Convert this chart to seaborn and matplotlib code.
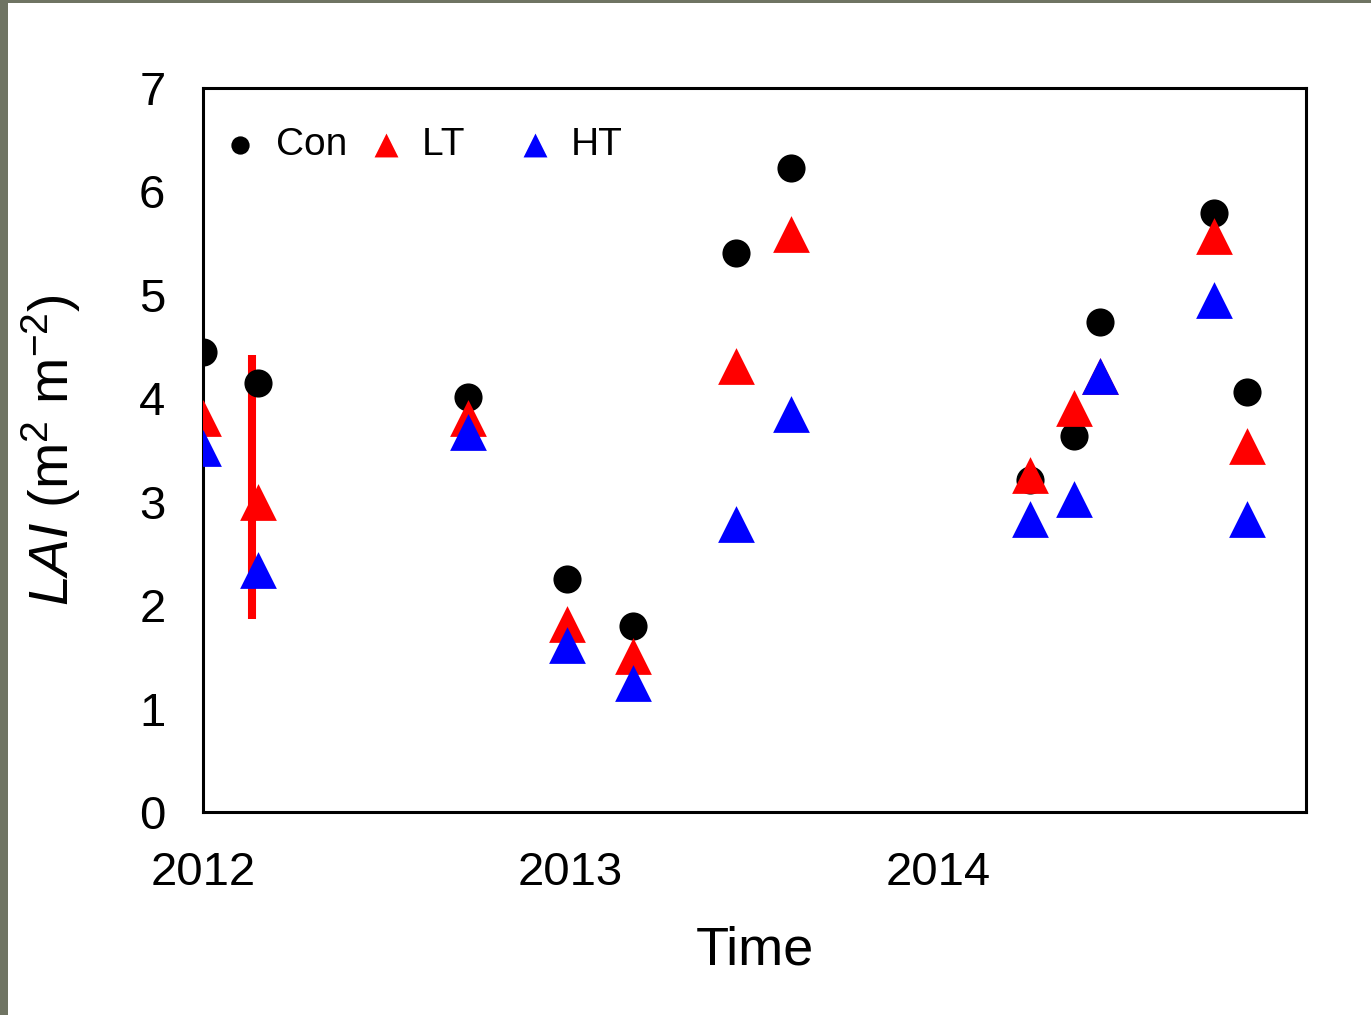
import matplotlib
matplotlib.use("Agg")
import matplotlib.pyplot as plt
import seaborn as sns
import pandas as pd
from matplotlib.patches import Rectangle

# Sampling dates (decimal years) and leaf area index per treatment
dates = [2012.00, 2012.15, 2012.72, 2012.99, 2013.17, 2013.45, 2013.60,
         2014.25, 2014.37, 2014.44, 2014.75, 2014.84]
lai_con = [4.45, 4.15, 4.01, 2.25, 1.80, 5.40, 6.23, 3.21, 3.64, 4.74, 5.79, 4.06]
lai_lt = [3.81, 3.00, 3.81, 1.82, 1.51, 4.31, 5.59, 3.26, 3.91, 4.22, 5.57, 3.54]
lai_ht = [3.52, 2.34, 3.67, 1.61, 1.25, 2.78, 3.85, 2.83, 3.03, 4.22, 4.95, 2.83]

# Vertical LSD bar
lsd_x = 2012.133
lsd_low = 1.87
lsd_high = 4.42

year_ticks = [2012, 2013, 2014]
lai_ticks = [0, 1, 2, 3, 4, 5, 6, 7]

sns.set_theme(style="white")
plt.rcParams["font.family"] = ["Liberation Sans", "DejaVu Sans"]
plt.rcParams["mathtext.fontset"] = "custom"
plt.rcParams["mathtext.rm"] = "Liberation Sans"
plt.rcParams["mathtext.it"] = "Liberation Sans:italic"
plt.rcParams["text.color"] = "black"
plt.rcParams["axes.labelcolor"] = "black"

fig = plt.figure(figsize=(13.71, 10.15), dpi=100)
fig.patch.set_facecolor("white")
ax = fig.add_axes([0.148, 0.2, 0.8046, 0.7133])

df = pd.DataFrame({"date": dates, "Con": lai_con, "LT": lai_lt, "HT": lai_ht})

sns.scatterplot(data=df, x="date", y="Con", ax=ax, color="black", marker="o",
                s=410, linewidth=0, label="Con", zorder=3)
sns.scatterplot(data=df, x="date", y="LT", ax=ax, color="#ff0000", marker="^",
                s=700, linewidth=0, label="LT   ", zorder=4)
sns.scatterplot(data=df, x="date", y="HT", ax=ax, color="#0000ff", marker="^",
                s=700, linewidth=0, label="HT", zorder=5)

ax.vlines(lsd_x, lsd_low, lsd_high, color="#ff0000", linewidth=5.8, zorder=2)

ax.set_xlim(2012, 2015)
ax.set_ylim(0, 7)
ax.set_xticks(year_ticks)
ax.set_xticklabels([str(y) for y in year_ticks])
ax.set_yticks(lai_ticks)
ax.set_yticklabels([str(v) for v in lai_ticks])

for sp in ax.spines.values():
    sp.set_visible(True)
    sp.set_color("black")
    sp.set_linewidth(2.2)

ax.tick_params(axis="both", which="major", direction="out", length=15,
               width=1.4, color="#6e6e6e", labelsize=34, labelcolor="black")
ax.tick_params(axis="y", pad=12)
ax.tick_params(axis="x", pad=13)

ax.set_xlabel("Time", fontsize=39, labelpad=22, color="black")
ax.set_ylabel(r"$\mathit{LAI}$ (m$^{2}$ m$^{-2}$)", fontsize=40, labelpad=40,
              color="black")

leg = ax.legend(loc="upper left", bbox_to_anchor=(-21 / 1103, 1.0), ncol=3,
                frameon=False, fontsize=28, markerscale=0.65,
                handlelength=1.0, handletextpad=0.42, columnspacing=0.5,
                borderaxespad=0.6, borderpad=0.4)
for t in leg.get_texts():
    t.set_color("black")

# Dark edge strips along the left and top of the canvas
fig.add_artist(Rectangle((0, 0), 8 / 1371, 1, transform=fig.transFigure,
                         facecolor="#6f7463", edgecolor="none", zorder=10))
fig.add_artist(Rectangle((0, 1 - 3 / 1015), 1, 3 / 1015, transform=fig.transFigure,
                         facecolor="#6f7463", edgecolor="none", zorder=10))

fig.savefig("out.png", dpi=100, facecolor="white")
